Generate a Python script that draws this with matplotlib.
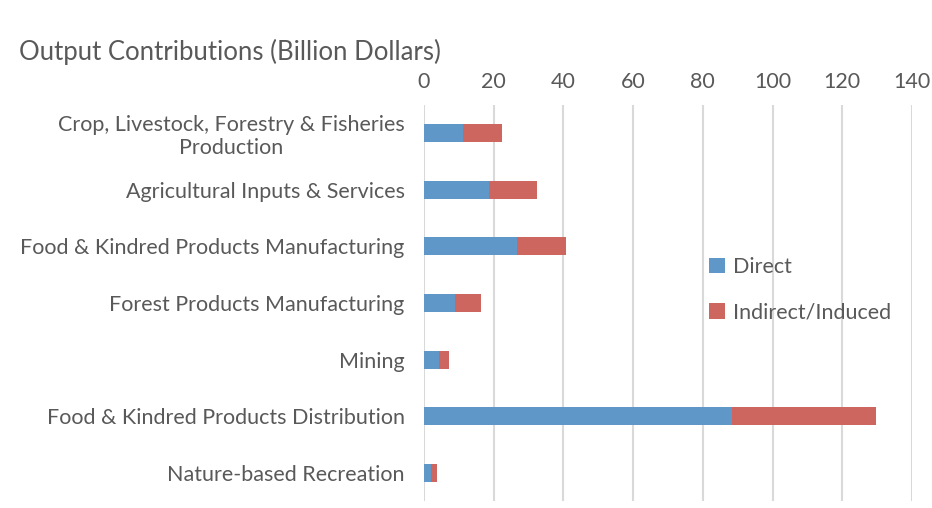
import numpy as np
import matplotlib
matplotlib.use('Agg')
import matplotlib.pyplot as plt

plt.rcParams['font.family'] = ['Lato', 'DejaVu Sans']

categories = ['Crop, Livestock, Forestry & Fisheries\nProduction',
              'Agricultural Inputs & Services',
              'Food & Kindred Products Manufacturing',
              'Forest Products Manufacturing',
              'Mining',
              'Food & Kindred Products Distribution',
              'Nature-based Recreation']
direct = [11.3, 18.5, 26.8, 9.0, 4.4, 88.5, 2.0]
total = [22.4, 32.3, 40.8, 16.4, 7.1, 129.6, 3.8]
indirect = [t - d for t, d in zip(total, direct)]
ticks = [0, 20, 40, 60, 80, 100, 120, 140]

blue = '#6097C9'
red = '#CD665F'
grey = '#595959'

fig = plt.figure(figsize=(9.32, 5.08), dpi=100)
ax = fig.add_axes([0.455, 0.013, 0.5235, 0.781])

y = np.arange(len(categories))
ax.barh(y, direct, height=0.32, color=blue, label='Direct')
ax.barh(y, indirect, left=direct, height=0.32, color=red, label='Indirect/Induced')

ax.set_xlim(0, 140)
ax.set_ylim(len(categories) - 0.5, -0.5)
ax.set_xticks(ticks)
ax.set_yticks(y)
ax.set_yticklabels(categories, multialignment='center')
ax.xaxis.tick_top()
ax.tick_params(axis='both', length=0, colors=grey, labelsize=15.5)
ax.tick_params(axis='x', pad=9)
ax.tick_params(axis='y', pad=14)
ax.grid(axis='x', color='#D9D9D9', linewidth=1.5)
ax.set_axisbelow(True)
for s in ax.spines.values():
    s.set_visible(False)

ax.legend(loc='upper left', bbox_to_anchor=(0.545, 0.665), frameon=False,
          fontsize=15.5, labelcolor=grey, handlelength=0.75, handleheight=0.75,
          handletextpad=0.35, labelspacing=1.2)

fig.text(0.02, 0.897, 'Output Contributions (Billion Dollars)', fontsize=18.5,
         color=grey, va='center')

plt.savefig('out.png', dpi=100)
